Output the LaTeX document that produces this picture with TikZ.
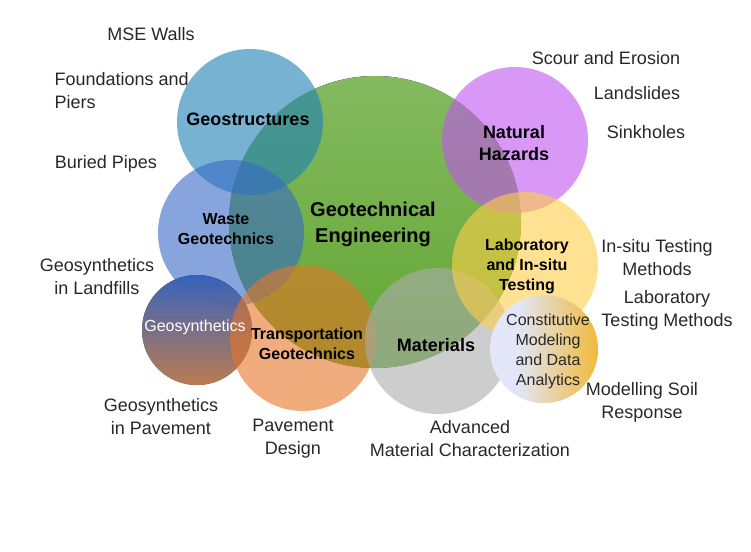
\documentclass[tikz,border=0pt]{standalone}
\usepackage{fontspec}
\setmainfont{Liberation Sans}

\definecolor{engtop}{RGB}{132,186,96}
\definecolor{engbot}{RGB}{98,166,50}
\definecolor{structblue}{RGB}{30,127,183}
\definecolor{hazpurple}{RGB}{193,83,240}
\definecolor{wasteblue}{RGB}{55,105,197}
\definecolor{transorange}{RGB}{230,117,38}
\definecolor{matgrey}{RGB}{172,172,172}
\definecolor{labyellow}{RGB}{255,207,72}
\definecolor{synthblue}{RGB}{58,108,205}
\definecolor{synthmid}{RGB}{112,116,175}
\definecolor{synthbrown}{RGB}{205,135,88}
\definecolor{modgold}{RGB}{245,172,0}
\definecolor{modpale}{RGB}{226,230,248}
\definecolor{labelgrey}{RGB}{40,40,40}

\tikzset{
  bubble/.style={fill opacity=0.6},
  hub/.style={font=\bfseries\fontsize{18}{22}\selectfont, align=center, text=black},
  hubsmall/.style={font=\bfseries\fontsize{16}{20}\selectfont, align=center, text=black},
  topic/.style={font=\fontsize{18}{23}\selectfont, align=center, text=labelgrey},
}

\begin{document}
\begin{tikzpicture}[x=1pt, y=-1pt]
    % Canvas
    \fill[white] (0,0) rectangle (751,551);
    \useasboundingbox (0,0) rectangle (751,551);

    % Bubbles
    \fill[top color=engtop, bottom color=engbot] (375,222) circle (146pt);
    \fill[structblue, bubble] (250,122) circle (73pt);
    \fill[hazpurple, bubble] (515,140) circle (73pt);
    \fill[wasteblue, bubble] (231,233) circle (73pt);
    \fill[top color=synthblue, middle color=synthmid, bottom color=synthbrown, fill opacity=0.9] (197,330) circle (55pt);
    \fill[transorange, bubble] (303,338) circle (73pt);
    \fill[matgrey, bubble] (438,341) circle (73pt);
    \fill[labyellow, bubble] (525,265) circle (73pt);

    % modelling bubble: pale, turning gold to the right
    \fill[modpale] (544,349) circle (54pt);
    \begin{scope}
        \clip (544,349) circle (54pt);
        \shade[left color=modpale, right color=modgold] (518,290) rectangle (622,410);
    \end{scope}

    % Bubble labels
    \node[hub, font=\bfseries\fontsize{20}{26}\selectfont] (core) at (373,224) {Geotechnical\\Engineering};
    \node[hub] (geostruct) at (248,119) {Geostructures};
    \node[hub] (hazards) at (514,143) {Natural\\Hazards};
    \node[hubsmall] (waste) at (226,229) {Waste\\Geotechnics};
    \node[hubsmall] (labtesting) at (527,266) {Laboratory\\and In-situ\\Testing};
    \node[font=\fontsize{16}{20}\selectfont, text=white] (geosynth) at (195,327) {Geosynthetics};
    \node[hubsmall] (transport) at (307,344) {Transportation\\Geotechnics};
    \node[hub] (materials) at (436,345) {Materials};
    \node[font=\fontsize{16}{20}\selectfont, align=center, text=labelgrey] (modeling) at (548,351) {Constitutive\\Modeling\\and Data\\Analytics};

    % Topics around
    \node[topic] (mse) at (151,34) {MSE Walls};
    \node[topic, anchor=west, align=left] (found) at (51,91) {Foundations and\\Piers};
    \node[topic] (pipes) at (106,164) {Buried Pipes};
    \node[topic] (landfills) at (97,277) {Geosynthetics\\in Landfills};
    \node[topic] (gspave) at (161,417) {Geosynthetics\\in Pavement};
    \node[topic] (pavedesign) at (293,439) {Pavement\\Design};
    \node[topic] (advmat) at (470,439) {Advanced\\Material Characterization};
    \node[topic] (soilresp) at (642,402) {Modelling Soil\\Response};
    \node[topic] (labmethods) at (667,310) {Laboratory\\Testing Methods};
    \node[topic] (insitu) at (657,258) {In-situ Testing\\Methods};
    \node[topic] (sinkholes) at (646,132) {Sinkholes};
    \node[topic] (landslides) at (637,93) {Landslides};
    \node[topic] (scour) at (606,58) {Scour and Erosion};
\end{tikzpicture}
\end{document}
